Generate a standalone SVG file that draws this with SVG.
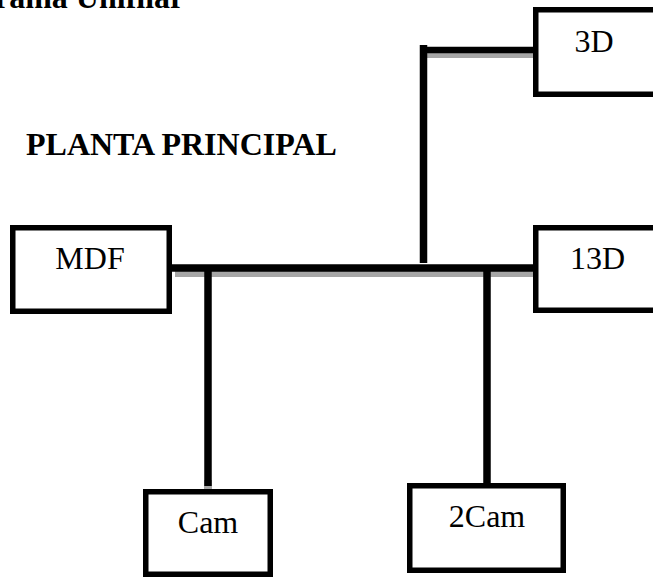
<svg xmlns="http://www.w3.org/2000/svg" width="653" height="578" viewBox="0 0 653 578">
<style>
.box{fill:#fff;stroke:#000;stroke-width:5.5}
.lbl{font-family:"Liberation Serif","Times New Roman",serif;font-size:32px;fill:#000;text-anchor:middle}
.title{font-family:"Liberation Serif","Times New Roman",serif;font-size:32px;font-weight:bold;fill:#000}
.wire{stroke:#000;stroke-width:7.5;fill:none}
.shadow{stroke:#a6a6a6;stroke-width:8;fill:none}
</style>
<rect width="653" height="578" fill="#fff"/>
<text class="title" x="-5" y="8">rama Unifilar</text>
<text class="title" x="26" y="155">PLANTA PRINCIPAL</text>
<g id="connectors">
<line class="shadow" x1="175" y1="273" x2="533" y2="273"/>
<line class="shadow" x1="427" y1="54" x2="533" y2="54"/>
<line class="shadow" x1="208" y1="480" x2="208" y2="489"/>
<line class="wire" x1="170" y1="268" x2="535" y2="268"/>
<line class="wire" x1="423.5" y1="263" x2="423.5" y2="45"/>
<line x1="420" y1="50" x2="535" y2="50" stroke="#000" stroke-width="6.5"/>
<line class="wire" x1="208" y1="268" x2="208" y2="486"/>
<line class="wire" x1="487" y1="268" x2="487" y2="485"/>
</g>
<g id="n3D">
<rect class="box" x="535.75" y="9.75" width="130" height="84.5"/>
<text class="lbl" x="594" y="52">3D</text>
</g>
<g id="nMDF">
<rect class="box" x="12.75" y="227.75" width="156.5" height="83.5"/>
<text class="lbl" x="90" y="269">MDF</text>
</g>
<g id="n13D">
<rect class="box" x="535.75" y="227.75" width="130" height="82.5"/>
<text class="lbl" x="597.5" y="269">13D</text>
</g>
<g id="nCam">
<rect class="box" x="145.75" y="491.75" width="124.5" height="82.5"/>
<text class="lbl" x="208" y="533">Cam</text>
</g>
<g id="n2Cam">
<rect class="box" x="409.75" y="485.75" width="153.5" height="84.5"/>
<text class="lbl" x="487" y="527">2Cam</text>
</g>
</svg>
